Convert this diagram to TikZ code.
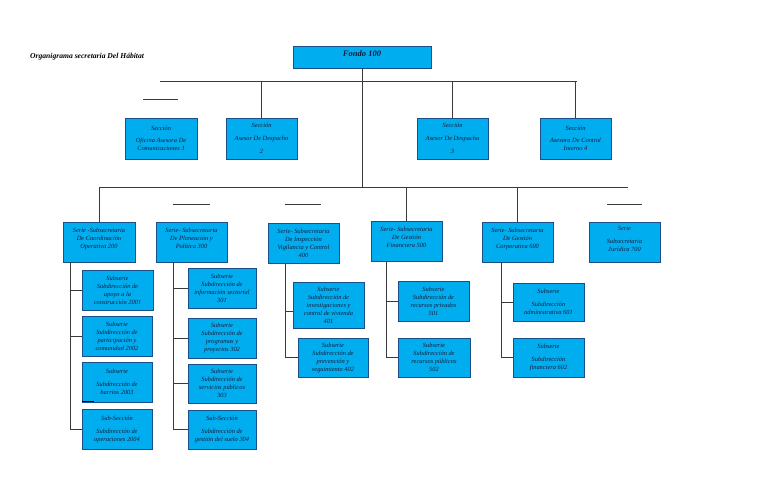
\documentclass[tikz,border=0pt]{standalone}
\usepackage{fontspec}
\setmainfont{Liberation Serif}
\definecolor{boxfill}{HTML}{00AEEF}
\definecolor{boxline}{HTML}{1B4F8A}
\definecolor{txtcol}{HTML}{1A1A3A}
\definecolor{linecol}{HTML}{3A3A3A}
\begin{document}
\begin{tikzpicture}[x=1pt,y=-1pt,
  box/.style={draw=boxline, fill=boxfill, line width=0.7pt, align=center, inner sep=1pt,
    text=txtcol, font=\fontsize{6.4}{8}\selectfont\itshape},
  conn/.style={draw=linecol, line width=0.8pt},
  stray/.style={draw=linecol, line width=0.8pt}]
\useasboundingbox (0,0) rectangle (768,497);

% title
\node[anchor=west, inner sep=0pt, font=\fontsize{7.6}{9}\selectfont\bfseries\itshape, text=black] (title) at (30,57) {Organigrama secretaria Del Hábitat};

% fondo
\node[box, minimum width=138pt, minimum height=22pt, text depth=7pt, font=\fontsize{8.5}{10}\selectfont\bfseries\itshape] (fondo) at (362,57) {Fondo 100};

% secciones
\node[box, minimum width=72pt, minimum height=41pt] (sec1) at (161,138.5) {Sección\\[4pt]Oficina Asesora De\\Comunicaciones 1};
\node[box, minimum width=71pt, minimum height=41pt] (sec2) at (261.5,138.5) {Sección\\[5pt]Asesor De Despacho\\[5pt]2};
\node[box, minimum width=71pt, minimum height=41pt] (sec3) at (452.5,138.5) {Sección\\[5pt]Asesor De Despacho\\[5pt]3};
\node[box, minimum width=71pt, minimum height=41pt] (sec4) at (575.5,138.5) {Sección\\[4pt]Asesora De Control\\Interno 4};

% series
\node[box, minimum width=72pt, minimum height=40pt] (s200) at (99,242) {Serie -Subsecretaria\\De Coordinación\\Operativa 200\\\mbox{}};
\node[box, minimum width=71pt, minimum height=40pt] (s300) at (191.5,242) {Serie- Subsecretaria\\De Planeación y\\Política 300\\\mbox{}};
\node[box, minimum width=71pt, minimum height=40pt] (s400) at (303.5,243) {Serie- Subsecretaria\\De Inspección\\Vigilancia y Control\\400};
\node[box, minimum width=71pt, minimum height=40pt] (s500) at (406.5,241) {Serie- Subsecretaria\\De Gestión\\Financiera 500\\\mbox{}};
\node[box, minimum width=71pt, minimum height=40pt] (s600) at (517.5,242) {Serie- Subsecretaria\\De Gestión\\Corporativa 600\\\mbox{}};
\node[box, minimum width=71pt, minimum height=40pt] (s700) at (624.5,242) {Serie\\[5pt]Subsecretaria\\Jurídica 700\\[-2pt]\mbox{}};

% subseries 200
\node[box, minimum width=71pt, minimum height=40pt] (b2001) at (117.5,290) {Subserie\\Subdirección de\\apoyo a la\\construcción 2001};
\node[box, minimum width=70pt, minimum height=40pt] (b2002) at (117,336) {Subserie\\Subdirección de\\participación y\\comunidad 2002};
\node[box, minimum width=70pt, minimum height=40pt] (b2003) at (117,382) {Subserie\\[5pt]Subdirección de\\barrios 2003};
\node[box, minimum width=70pt, minimum height=40pt] (b2004) at (117,429) {Sub-Sección\\[5pt]Subdirección de\\operaciones 2004};

% subseries 300
\node[box, minimum width=68pt, minimum height=40pt] (b301) at (222,288) {Subserie\\Subdirección de\\información sectorial\\301};
\node[box, minimum width=68pt, minimum height=40pt] (b302) at (222,338) {Subserie\\Subdirección de\\programas y\\proyectos 302};
\node[box, minimum width=68pt, minimum height=39pt] (b303) at (222,383.5) {Subserie\\Subdirección de\\servicios públicos\\303};
\node[box, minimum width=68pt, minimum height=39pt] (b304) at (222,429.5) {Sub-Sección\\[5pt]Subdirección de\\gestión del suelo 304};

% subseries 400
\node[box, minimum width=71pt, minimum height=46pt] (b401) at (328.5,305) {Subserie\\Subdirección de\\investigaciones y\\control de vivienda\\401};
\node[box, minimum width=70pt, minimum height=39pt] (b402) at (333,357.5) {Subserie\\Subdirección de\\prevención y\\seguimiento 402};

% subseries 500
\node[box, minimum width=71pt, minimum height=40pt] (b501) at (433.5,301) {Subserie\\Subdirección de\\recursos privados\\501};
\node[box, minimum width=72pt, minimum height=39pt] (b502) at (434,357.5) {Subserie\\Subdirección de\\recursos públicos\\502};

% subseries 600
\node[box, minimum width=71pt, minimum height=38pt] (b601) at (548.5,302) {Subserie\\[5pt]Subdirección\\administrativa 601};
\node[box, minimum width=71pt, minimum height=39pt] (b602) at (548.5,357.5) {Subserie\\[5pt]Subdirección\\financiera 602};

% bars and column coordinates
\coordinate (tl) at (160,81);
\coordinate (tr) at (577,81);
\coordinate (sl) at (100,187);
\coordinate (sr) at (628,187);
\coordinate (k2) at (70,0);
\coordinate (k3) at (173,0);
\coordinate (k4) at (285,0);
\coordinate (k5) at (386,0);
\coordinate (k6) at (501,0);

% connectors top level
\draw[conn] (tl) -- (tr);
\draw[conn] (fondo.south) -- (fondo.south |- sl);
\draw[conn] (sec2.north |- tl) -- (sec2.north);
\draw[conn] (sec3.north |- tl) -- (sec3.north);
\draw[conn] (sec4.north |- tl) -- (sec4.north);

% series bar
\draw[conn] (sl) -- (sr);
\draw[conn] (s200.north |- sl) -- (s200.north);
\draw[conn] (s500.north |- sl) -- (s500.north);
\draw[conn] (s600.north |- sl) -- (s600.north);

% column 200
\draw[conn] (s200.south -| k2) |- (b2004.west);
\draw[conn] (b2001.west -| k2) -- (b2001.west);
\draw[conn] (b2002.west -| k2) -- (b2002.west);

% column 300
\draw[conn] (s300.south -| k3) |- (b304.west);
\draw[conn] (b301.west -| k3) -- (b301.west);
\draw[conn] (b302.west -| k3) -- (b302.west);
\draw[conn] (b303.west -| k3) -- (b303.west);

% column 400
\draw[conn] (s400.south -| k4) |- (b402.west);
\draw[conn] ([yshift=-6pt]b401.west -| k4) -- ([yshift=-6pt]b401.west);

% column 500
\draw[conn] (s500.south -| k5) |- (b502.west);
\draw[conn] (b501.west -| k5) -- (b501.west);

% column 600
\draw[conn] (s600.south -| k6) |- (b602.west);
\draw[conn] (b601.west -| k6) -- (b601.west);

% stray short lines
\draw[stray] (143,99) -- (178,99);
\draw[stray] (173,204) -- (210,204);
\draw[stray] (285,204) -- (321,204);
\draw[stray] (607,204) -- (642,204);
\draw[stray, draw=black, line width=1pt] (82,401) -- (94,401);
\end{tikzpicture}
\end{document}
